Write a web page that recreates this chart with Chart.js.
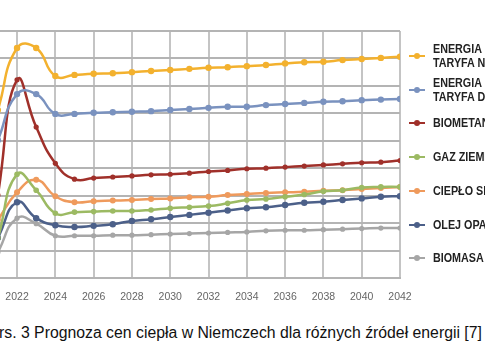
<!DOCTYPE html>
<html lang="pl">
<head>
<meta charset="utf-8">
<script src="https://cdn.jsdelivr.net/npm/chart.js@4.4.1/dist/chart.umd.min.js"></script>
<style>
  html, body { margin: 0; padding: 0; background: #fff; }
  body { width: 485px; height: 360px; overflow: hidden; position: relative; }
  /* canvas is shifted so the plot starts at the page edge, as in the cropped original */
  #chart { position: absolute; left: -4px; top: 0; }
  .item { position: absolute; left: 409px; display: flex; align-items: center; white-space: nowrap; transform: translateY(-50%); }
  .mark { position: relative; width: 16px; height: 8px; margin-right: 8px; flex: none; }
  .mark i { position: absolute; left: 0; right: 0; top: 3px; height: 2px; }
  .mark b { position: absolute; left: 5px; top: 1px; width: 6px; height: 6px; border-radius: 50%; }
  .txt { display: inline-block; font: bold 12.5px "Liberation Sans", Arial, sans-serif; color: #222; line-height: 14px; transform: scaleX(0.86); transform-origin: left center; }
  #caption { position: absolute; left: -1px; top: 324px; white-space: nowrap; font: 15.8px "Liberation Sans", Arial, sans-serif; color: #111; line-height: 18px; }
</style>
</head>
<body>
<canvas id="chart" width="489" height="310"></canvas>
<div id="legend"></div>
<div id="caption">rs. 3 Prognoza cen ciepła w Niemczech dla różnych źródeł energii [7]</div>
<script>
// years on the x axis (2021 sits just outside the left edge of the crop)
const years = [2021, 2022, 2023, 2024, 2025, 2026, 2027, 2028, 2029, 2030, 2031,
  2032, 2033, 2034, 2035, 2036, 2037, 2038, 2039, 2040, 2041, 2042];
const tickYears = [2022, 2024, 2026, 2028, 2030, 2032, 2034, 2036, 2038, 2040, 2042];

// legend names, split into the lines shown in the legend
const seriesNames = [
  ["ENERGIA ELEKTRYCZNA", "TARYFA NORMALNA"],
  ["ENERGIA ELEKTRYCZNA", "TARYFA DLA POMP CIEPŁA"],
  ["BIOMETAN"],
  ["GAZ ZIEMNY"],
  ["CIEPŁO SIECIOWE"],
  ["OLEJ OPAŁOWY"],
  ["BIOMASA"],
];

// values
const energiaNormalna = [30.6, 41.9, 41.9, 36.8, 37.0, 37.2, 37.3, 37.5, 37.7, 37.9, 38.1,
  38.3, 38.4, 38.6, 38.8, 39.1, 39.3, 39.4, 39.7, 39.9, 40.1, 40.3];
const energiaPompy = [25.1, 33.5, 33.5, 29.9, 29.9, 30.1, 30.2, 30.3, 30.4, 30.6, 30.8,
  31.0, 31.2, 31.2, 31.5, 31.7, 31.9, 32.1, 32.2, 32.4, 32.5, 32.6];
const biometan = [15.1, 36.1, 27.5, 20.9, 18.0, 18.2, 18.4, 18.6, 18.8, 18.9, 19.1,
  19.4, 19.6, 19.9, 20.0, 20.2, 20.4, 20.6, 20.8, 21.0, 21.1, 21.4];
const gazZiemny = [7.3, 18.9, 16.0, 11.8, 12.0, 12.1, 12.2, 12.2, 12.4, 12.7, 12.9,
  13.1, 13.6, 14.2, 14.4, 14.8, 15.2, 15.8, 16.0, 16.5, 16.6, 16.6];
const cieploSieciowe = [10.6, 15.6, 17.9, 14.9, 13.8, 14.0, 14.1, 14.2, 14.4, 14.5, 14.7,
  14.8, 15.1, 15.3, 15.5, 15.6, 15.7, 15.9, 16.0, 16.2, 16.4, 16.6];
const olejOpalowy = [7.3, 13.8, 10.9, 9.6, 9.3, 9.5, 9.8, 10.4, 10.7, 11.1, 11.5,
  11.9, 12.3, 12.7, 12.9, 13.3, 13.7, 13.9, 14.2, 14.5, 14.8, 14.9];
const biomasa = [4.7, 10.9, 9.9, 7.7, 7.7, 7.7, 7.8, 7.8, 7.9, 8.0, 8.1,
  8.2, 8.3, 8.4, 8.6, 8.7, 8.7, 8.8, 8.9, 9.0, 9.1, 9.1];

const seriesValues = [energiaNormalna, energiaPompy, biometan, gazZiemny, cieploSieciowe, olejOpalowy, biomasa];
const seriesColors = ["#f3b12e", "#7a92bf", "#a0302a", "#9cba63", "#ef9a5c", "#4c6089", "#a6a6a6"];
const pointSizes = [3.2, 3.2, 2.6, 2.8, 3, 3.2, 2.6];

const gridColorX = "#c4c4c4";
const gridColorY = "#b4b4b4";

const datasets = seriesValues.map((vals, i) => ({
  label: seriesNames[i].join(" "),
  data: years.map((yr, j) => ({ x: yr, y: vals[j] })),
  borderColor: seriesColors[i],
  backgroundColor: seriesColors[i],
  pointRadius: pointSizes[i],
  pointBorderWidth: 0,
  borderWidth: 2.5,
  tension: 0.5,
}));

const chart = new Chart(document.getElementById("chart"), {
  type: "line",
  data: { datasets: datasets },
  options: {
    responsive: false,
    animation: false,
    devicePixelRatio: 1,
    layout: { padding: { top: 31, right: 85, left: 0, bottom: 0 } },
    plugins: { legend: { display: false }, tooltip: { enabled: false } },
    scales: {
      x: {
        type: "linear",
        min: 2021.11,
        max: 2042,
        afterBuildTicks: (s) => { s.ticks = tickYears.map((v) => ({ value: v })); },
        afterFit: (s) => { s.height = 32; s.paddingLeft = 0; s.paddingRight = 0; },
        ticks: {
          color: "#666",
          font: { family: "Liberation Sans", size: 10.5 },
          padding: 13,
          maxRotation: 0,
          autoSkip: false,
          callback: (v) => String(v),
        },
        grid: { color: gridColorX, lineWidth: 2, drawTicks: false },
        border: { color: gridColorY, width: 2 },
      },
      y: {
        min: 0,
        max: 45,
        afterFit: (s) => { s.width = 0; },
        ticks: { display: false, stepSize: 5 },
        grid: { color: gridColorY, lineWidth: 2, drawTicks: false },
        border: { display: false },
      },
    },
  },
});

// legend on the right, cut by the page edge like in the original
const legend = document.getElementById("legend");
chart.data.datasets.forEach((ds, i) => {
  const item = document.createElement("div");
  item.className = "item";
  item.style.top = (56 + i * 33.7) + "px";
  const mark = document.createElement("span");
  mark.className = "mark";
  mark.innerHTML = '<i style="background:' + ds.borderColor + '"></i><b style="background:' + ds.borderColor + '"></b>';
  const txt = document.createElement("span");
  txt.className = "txt";
  txt.innerHTML = seriesNames[i].join("<br>");
  item.appendChild(mark);
  item.appendChild(txt);
  legend.appendChild(item);
});
</script>
</body>
</html>
